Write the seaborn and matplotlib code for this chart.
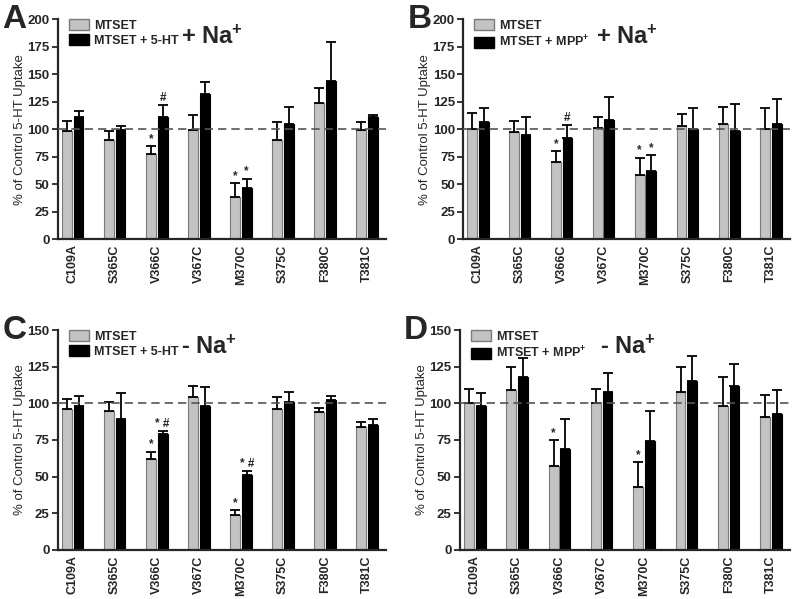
import pandas as pd
import matplotlib
matplotlib.use("Agg")
import matplotlib.pyplot as plt
import seaborn as sns

# Data (mean % of control uptake and upward SEM)
mutants = ["C109A", "S365C", "V366C", "V367C", "M370C", "S375C", "F380C", "T381C"]

a_mtset = [98, 90.5, 77, 99, 38.5, 90, 124, 99]
a_mtset_err = [9, 8, 7.5, 14, 12, 16, 13, 7]
a_5ht = [111, 99, 111, 131.5, 46.5, 105, 144, 111]
a_5ht_err = [5, 3.5, 10.5, 11, 8.5, 15.5, 35.5, 2]
a_mtset_marks = ["", "", "*", "", "*", "", "", ""]
a_5ht_marks = ["", "", "#", "", "*", "", "", ""]

b_mtset = [100, 97, 70, 101, 58, 103, 105, 100]
b_mtset_err = [15, 10, 10, 10, 16, 11, 15, 19]
b_mpp = [106, 95, 92, 108, 62, 100, 98, 105]
b_mpp_err = [13, 16, 12, 21, 14, 19, 25, 22]
b_mtset_marks = ["", "", "*", "", "*", "", "", ""]
b_mpp_marks = ["", "", "#", "", "*", "", "", ""]

c_mtset = [96, 95, 62, 104, 24, 96, 94, 84]
c_mtset_err = [7, 6, 5, 8, 3, 8, 3, 3]
c_5ht = [98, 89, 79, 98, 51, 101, 102, 85]
c_5ht_err = [7, 18, 2, 13, 3, 7, 3, 4]
c_mtset_marks = ["", "", "*", "", "*", "", "", ""]
c_5ht_marks = ["", "", "* #", "", "* #", "", "", ""]

d_mtset = [100, 109, 57, 100, 43, 108, 98, 91]
d_mtset_err = [10, 16, 18, 10, 17, 17, 20, 15]
d_mpp = [98, 118, 69, 108, 74, 115, 112, 93]
d_mpp_err = [9, 13, 20, 13, 21, 17, 15, 16]
d_mtset_marks = ["", "", "*", "", "*", "", "", ""]
d_mpp_marks = ["", "", "", "", "", "", "", ""]

sns.set_style("ticks")
plt.rcParams["font.family"] = ["Liberation Sans", "DejaVu Sans"]
plt.rcParams["mathtext.fontset"] = "custom"
plt.rcParams["mathtext.rm"] = "Liberation Sans:bold"
plt.rcParams["mathtext.bf"] = "Liberation Sans:bold"
plt.rcParams["mathtext.it"] = "Liberation Sans:bold"
plt.rcParams["mathtext.default"] = "bf"

GRAY = "#c3c3c3"
BLACK = "#000000"

fig = plt.figure(figsize=(8, 5.99), dpi=100)


def panel(rect, letter, title, ymax, s1, e1, m1, name2, s2, e2, m2, title_x):
    ax = fig.add_axes(rect)
    df = pd.DataFrame({
        "mutant": mutants * 2,
        "treatment": ["MTSET"] * len(mutants) + [name2] * len(mutants),
        "value": s1 + s2,
    })
    sns.barplot(data=df, x="mutant", y="value", hue="treatment",
                palette=[GRAY, BLACK], width=0.55, gap=0.15,
                errorbar=None, legend=False, ax=ax)
    for cont, edge in zip(ax.containers, ["#7a7a7a", BLACK]):
        for bar in cont:
            bar.set_edgecolor(edge)
            bar.set_linewidth(0.8)

    for cont, vals, errs, marks in zip(ax.containers, [s1, s2], [e1, e2], [m1, m2]):
        xs = [b.get_x() + b.get_width() / 2 for b in cont]
        ax.errorbar(xs, vals, yerr=[[0] * len(vals), errs], fmt="none",
                    ecolor="black", elinewidth=1.3, capsize=3.5, capthick=1.3,
                    zorder=1)
        for x, v, e, m in zip(xs, vals, errs, marks):
            if m:
                ax.text(x, v + e + ymax * 0.005, m, ha="center", va="bottom",
                        fontsize=8.5, fontweight="bold")

    # dashed control line sits over the grey bars
    ax.axhline(100, color="#555555", linestyle=(0, (5, 3)), linewidth=1.2,
               zorder=3)

    ax.set_xlim(-0.35, 7.45)
    ax.set_ylim(0, ymax)
    ax.set_yticks(range(0, ymax + 1, 25))
    ax.set_xlabel("")
    ax.set_ylabel("% of Control 5-HT Uptake", fontsize=9.5, labelpad=1)
    ax.tick_params(axis="x", length=0, labelrotation=90, labelsize=9, pad=4)
    ax.tick_params(axis="y", length=4, width=1.3, labelsize=9.5, pad=2)
    for lab in ax.get_xticklabels() + ax.get_yticklabels():
        lab.set_fontweight("bold")
    sns.despine(ax=ax)
    for sp in ["left", "bottom"]:
        ax.spines[sp].set_linewidth(1.6)

    handles = [plt.Rectangle((0, 0), 1, 1, facecolor=GRAY, edgecolor="#7a7a7a"),
               plt.Rectangle((0, 0), 1, 1, facecolor=BLACK, edgecolor=BLACK)]
    ax.legend(handles, ["MTSET", name2], loc="upper left",
              bbox_to_anchor=(0.015, 1.03), frameon=False, borderpad=0,
              handlelength=1.6, handleheight=1.0, handletextpad=0.4,
              labelspacing=0.2, prop={"weight": "bold", "size": 9})

    ax.text(title_x, 0.92, title, transform=ax.transAxes, ha="center",
            va="center", fontsize=17, fontweight="bold")
    ax.text(-0.17, 1.0, letter, transform=ax.transAxes, ha="left",
            va="center", fontsize=24, fontweight="bold")
    return ax


panel([0.0725, 0.601, 0.41, 0.367], "A", r"+ Na$^{+}$", 200,
      a_mtset, a_mtset_err, a_mtset_marks,
      "MTSET + 5-HT", a_5ht, a_5ht_err, a_5ht_marks, 0.47)
panel([0.579, 0.601, 0.4085, 0.367], "B", r"+ Na$^{+}$", 200,
      b_mtset, b_mtset_err, b_mtset_marks,
      r"MTSET + MPP$^{+}$", b_mpp, b_mpp_err, b_mpp_marks, 0.50)
panel([0.0725, 0.082, 0.41, 0.367], "C", r"- Na$^{+}$", 150,
      c_mtset, c_mtset_err, c_mtset_marks,
      "MTSET + 5-HT", c_5ht, c_5ht_err, c_5ht_marks, 0.46)
panel([0.575, 0.082, 0.4125, 0.367], "D", r"- Na$^{+}$", 150,
      d_mtset, d_mtset_err, d_mtset_marks,
      r"MTSET + MPP$^{+}$", d_mpp, d_mpp_err, d_mpp_marks, 0.51)

fig.savefig("out.png", dpi=100)
